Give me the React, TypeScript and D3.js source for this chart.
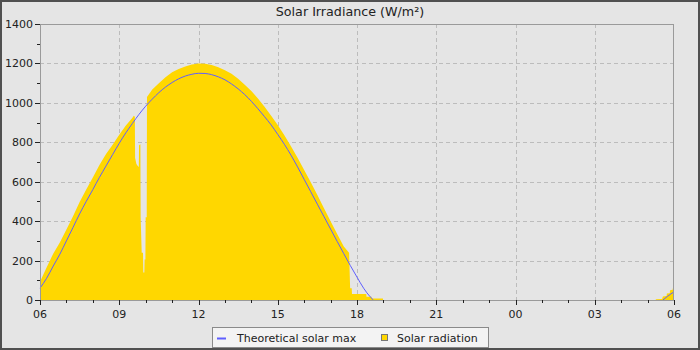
import React from 'react';
import * as d3 from 'd3';

// ---------- data ----------
const xTickHours = [6, 9, 12, 15, 18, 21, 24, 27, 30];
const xTickLabels = ['06', '09', '12', '15', '18', '21', '00', '03', '06'];
const yTickValues = [0, 200, 400, 600, 800, 1000, 1200, 1400];

const theoryHours = [
  6, 6.25, 6.5, 6.75, 7, 7.25, 7.5, 7.75, 8, 8.25, 8.5, 8.75, 9, 9.25, 9.5, 9.75,
  10, 10.25, 10.5, 10.75, 11, 11.25, 11.5, 11.75, 12, 12.25, 12.5, 12.75, 13, 13.25,
  13.5, 13.75, 14, 14.25, 14.5, 14.75, 15, 15.25, 15.5, 15.75, 16, 16.25, 16.5, 16.75,
  17, 17.25, 17.5, 17.75, 18, 18.25, 18.5, 18.62,
];
const theoryValues = [
  60, 110, 172, 232, 300, 368, 437, 500, 560, 622, 680, 738, 795, 848, 896, 942,
  983, 1019, 1052, 1080, 1103, 1122, 1136, 1145, 1150, 1149, 1143, 1132, 1117, 1096,
  1071, 1042, 1008, 970, 930, 888, 840, 790, 735, 675, 612, 549, 486, 423,
  360, 297, 235, 174, 116, 60, 16, 0,
];
const theoryNextHours = [29.58, 29.75, 30];
const theoryNextValues = [0, 18, 42];

const radiationHours = [
  6, 6.25, 6.5, 6.75, 7, 7.25, 7.5, 7.75, 8, 8.25, 8.5, 8.75, 9, 9.25, 9.5, 9.55,
  9.59, 9.6, 9.65, 9.7, 9.74, 9.75, 9.8, 9.81, 9.85, 9.9, 9.91, 9.95, 9.96, 9.99,
  10, 10.04, 10.05, 10.25, 10.5, 10.75, 11, 11.25, 11.5, 11.75, 12, 12.25, 12.5,
  12.75, 13, 13.25, 13.5, 13.75, 14, 14.25, 14.5, 14.75, 15, 15.25, 15.5, 15.75,
  16, 16.25, 16.5, 16.75, 17, 17.25, 17.5, 17.7, 17.74, 17.8, 17.81, 18.35, 18.36,
  18.55, 18.56, 18.98, 18.99,
];
const radiationValues = [
  92, 165, 235, 292, 358, 425, 497, 560, 622, 685, 740, 788, 838, 885, 925, 935,
  930, 720, 690, 680, 675, 785, 790, 420, 240, 240, 140, 140, 205, 205,
  420, 420, 1030, 1068, 1100, 1130, 1155, 1172, 1185, 1195, 1200, 1198, 1192,
  1180, 1165, 1148, 1122, 1092, 1060, 1022, 980, 935, 888, 836, 780, 722,
  660, 597, 532, 466, 400, 335, 272, 240, 60, 60, 30, 30, 17,
  17, 8, 8, 0,
];
const radiationNextHours = [29.3, 29.32, 29.55, 29.58, 29.72, 29.73, 29.84, 29.85, 29.95, 29.96, 30];
const radiationNextValues = [0, 4, 5, 18, 20, 33, 34, 50, 52, 62, 63];

const title = 'Solar Irradiance (W/m²)';
const legendLabels = ['Theoretical solar max', 'Solar radiation'];

// ---------- chart ----------
const W = 700;
const H = 350;
const PL = 40, PR = 674, PT = 24, PB = 300;
const FONT = '"DejaVu Sans", Verdana, sans-serif';

export default function App() {
  const x = d3.scaleLinear().domain([6, 30]).range([PL, PR]);
  const y = d3.scaleLinear().domain([0, 1400]).range([PB, PT]);

  const zip = (hs: number[], vs: number[]) => hs.map((h, i) => [h, vs[i]] as [number, number]);

  const area = d3
    .area<[number, number]>()
    .x((d) => x(d[0]))
    .y0(y(0))
    .y1((d) => y(d[1]))
    .curve(d3.curveLinear);
  const line = d3
    .line<[number, number]>()
    .x((d) => x(d[0]))
    .y((d) => y(d[1]))
    .curve(d3.curveMonotoneX);

  const crisp = (v: number) => Math.round(v) + 0.5;
  const minorX = d3.range(6, 31, 1);
  const minorY = d3.range(0, 1401, 100);

  return (
    <svg
      width={W}
      height={H}
      style={{ position: 'absolute', left: 0, top: 0, display: 'block' }}
      fontFamily={FONT}
    >
      <rect x={0} y={0} width={W} height={H} fill="#e5e5e5" />
      <rect x={1} y={1} width={W - 2} height={H - 2} fill="none" stroke="#505050" strokeWidth={2} />

      <text x={W / 2} y={16} textAnchor="middle" fontSize={12.7} fill="#222">
        {title}
      </text>

      {/* plot background */}
      <rect x={PL} y={PT} width={PR - PL} height={PB - PT} fill="#e5e5e5" />

      {/* grid */}
      {xTickHours.slice(1, -1).map((h) => (
        <line
          key={'gx' + h}
          x1={crisp(x(h))}
          x2={crisp(x(h))}
          y1={PT}
          y2={PB}
          stroke="#bcbcbc"
          strokeDasharray="4,3"
        />
      ))}
      {yTickValues.slice(1, -1).map((v) => (
        <line
          key={'gy' + v}
          x1={PL}
          x2={PR}
          y1={crisp(y(v))}
          y2={crisp(y(v))}
          stroke="#bcbcbc"
          strokeDasharray="4,3"
        />
      ))}

      {/* series */}
      <path d={area(zip(radiationHours, radiationValues)) || ''} fill="#ffd700" />
      <path d={area(zip(radiationNextHours, radiationNextValues)) || ''} fill="#ffd700" />
      <path d={line(zip(theoryHours, theoryValues)) || ''} fill="none" stroke="#5f5fff" strokeWidth={1} />
      <path d={line(zip(theoryNextHours, theoryNextValues)) || ''} fill="none" stroke="#5f5fff" strokeWidth={1} />

      {/* plot border */}
      <rect
        x={PL + 0.5}
        y={PT + 0.5}
        width={PR - PL - 1}
        height={PB - PT}
        fill="none"
        stroke="#9a9a9a"
      />

      {/* y axis */}
      {minorY.map((v) => (
        <line
          key={'ym' + v}
          x1={v % 200 === 0 ? PL - 5 : PL - 3}
          x2={PL}
          y1={crisp(y(v))}
          y2={crisp(y(v))}
          stroke="#222"
        />
      ))}
      {yTickValues.map((v) => (
        <text key={'yl' + v} x={PL - 7} y={y(v) + 4} textAnchor="end" fontSize={11} fill="#222">
          {v}
        </text>
      ))}

      {/* x axis */}
      {minorX.map((h) => (
        <line
          key={'xm' + h}
          x1={crisp(x(h))}
          x2={crisp(x(h))}
          y1={PB}
          y2={(h - 6) % 3 === 0 ? PB + 5 : PB + 3}
          stroke="#222"
        />
      ))}
      {xTickHours.map((h, i) => (
        <text key={'xl' + h} x={x(h)} y={PB + 18} textAnchor="middle" fontSize={11} fill="#222">
          {xTickLabels[i]}
        </text>
      ))}

      {/* legend */}
      <rect x={212.5} y={327.5} width={276} height={20} fill="#f3f3f3" stroke="#8a8a8a" />
      <line x1={217} x2={226} y1={338.5} y2={338.5} stroke="#5f5fff" strokeWidth={2} />
      <text x={237} y={341.5} fontSize={11} fill="#222">
        {legendLabels[0]}
      </text>
      <rect x={381.5} y={334.5} width={6} height={6} fill="#ffd700" stroke="#777" />
      <text x={397} y={341.5} fontSize={11} fill="#222">
        {legendLabels[1]}
      </text>
    </svg>
  );
}
